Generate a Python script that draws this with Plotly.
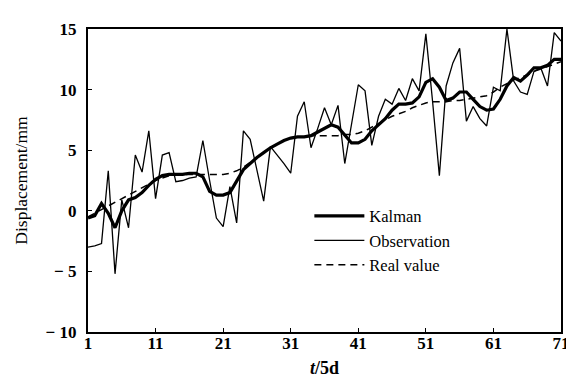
import plotly.graph_objects as go

t = list(range(1, 72))

observation = [
    -3.0, -2.9, -2.7, 3.3, -5.2, 0.9, -1.4, 4.6, 3.2, 6.6,
    1.0, 4.6, 4.8, 2.4, 2.5, 2.7, 2.8, 5.8, 2.5, -0.6,
    -1.3, 2.0, -1.0, 6.6, 5.9, 3.4, 0.8, 5.3, 4.6, 3.9,
    3.1, 7.8, 9.0, 5.2, 6.8, 8.5, 7.1, 8.7, 3.9, 7.0,
    10.4, 9.9, 5.4, 7.8, 9.2, 8.8, 10.1, 9.1, 10.9, 9.9,
    14.6, 9.0, 2.9, 10.3, 12.2, 13.4, 7.4, 8.6, 7.6, 7.0,
    10.2, 9.9, 15.0, 10.7, 9.8, 9.6, 11.5, 11.8, 10.3, 14.7,
    14.0,
]

kalman = [
    -0.6, -0.4, 0.6, -0.2, -1.4, 0.0, 0.9, 1.1, 1.5, 2.1,
    2.6, 2.9, 3.0, 3.0, 3.0, 3.1, 3.1, 2.8, 1.6, 1.3,
    1.3, 1.5, 2.4, 3.4, 3.9, 4.4, 4.8, 5.2, 5.5, 5.8,
    6.0, 6.1, 6.1, 6.2, 6.5, 6.8, 7.1, 6.9, 6.2, 5.6,
    5.6, 5.9, 6.6, 7.1, 7.6, 8.3, 8.8, 8.8, 8.9, 9.4,
    10.6, 10.9, 10.2, 9.1, 9.3, 9.8, 9.8, 9.2, 8.6, 8.3,
    8.4, 9.2, 10.3, 11.0, 10.7, 11.2, 11.8, 11.8, 12.0, 12.5,
    12.5,
]

real_value = [
    -0.5, -0.2, 0.1, 0.4, 0.7, 1.0, 1.3, 1.6, 1.9, 2.2,
    2.5, 2.7, 2.9, 3.0, 3.0, 3.0, 3.0, 3.0, 3.0, 3.0,
    3.0, 3.1, 3.3, 3.6, 4.0, 4.4, 4.8, 5.2, 5.5, 5.8,
    6.0, 6.1, 6.1, 6.2, 6.2, 6.2, 6.2, 6.2, 6.3, 6.3,
    6.4, 6.6, 6.9, 7.2, 7.5, 7.8, 8.0, 8.2, 8.5, 8.7,
    8.9, 9.0, 9.0, 9.0, 9.1, 9.1, 9.2, 9.3, 9.4, 9.5,
    9.8, 10.2, 10.5, 10.8, 11.0, 11.2, 11.5, 11.7, 11.9, 12.1,
    12.3,
]

x_ticks = [1, 11, 21, 31, 41, 51, 61, 71]
y_ticks = [-10, -5, 0, 5, 10, 15]
y_tick_labels = ["\u2212 10", "\u2212 5", "0", "5", "10", "15"]

serif = "Liberation Serif, Times New Roman, serif"

fig = go.Figure()
fig.add_trace(go.Scatter(x=t, y=real_value, mode="lines", name="Real value",
                         line=dict(color="black", width=1.5, dash="7px,5px")))
fig.add_trace(go.Scatter(x=t, y=observation, mode="lines", name="Observation",
                         line=dict(color="black", width=1.3)))
fig.add_trace(go.Scatter(x=t, y=kalman, mode="lines", name="Kalman",
                         line=dict(color="black", width=3.2)))

fig.update_layout(
    width=574, height=386,
    margin=dict(l=79, r=21, t=13, b=62),
    paper_bgcolor="white", plot_bgcolor="white",
    font=dict(family=serif, color="black", size=15),
    showlegend=True,
    legend=dict(
        x=0.468, y=0.44, xanchor="left", yanchor="top",
        traceorder="reversed",
        bgcolor="rgba(0,0,0,0)",
        font=dict(family=serif, size=16.5, color="black"),
        itemwidth=50,
    ),
    xaxis=dict(
        range=[1, 71], tickvals=x_ticks, ticktext=[str(v) for v in x_ticks],
        showline=True, linecolor="black", linewidth=2.2, mirror=True,
        ticks="inside", ticklen=4, tickwidth=1, tickcolor="black",
        ticklabelstandoff=-6,
        showgrid=False, zeroline=False,
        tickfont=dict(family=serif, size=17, color="black", weight="bold"),
        title=dict(text="<i>t</i>/5d", font=dict(family=serif, size=18, weight="bold"), standoff=10),
    ),
    yaxis=dict(
        range=[-10, 15], tickvals=y_ticks, ticktext=y_tick_labels,
        showline=True, linecolor="black", linewidth=2.2, mirror=True,
        ticks="inside", ticklen=4, tickwidth=1, tickcolor="black",
        ticklabelstandoff=6,
        showgrid=False, zeroline=False,
        tickfont=dict(family=serif, size=17, color="black", weight="bold"),
        title=dict(text="Displacement/mm", font=dict(family=serif, size=17.5), standoff=13),
    ),
)

fig.write_html("out.html")
